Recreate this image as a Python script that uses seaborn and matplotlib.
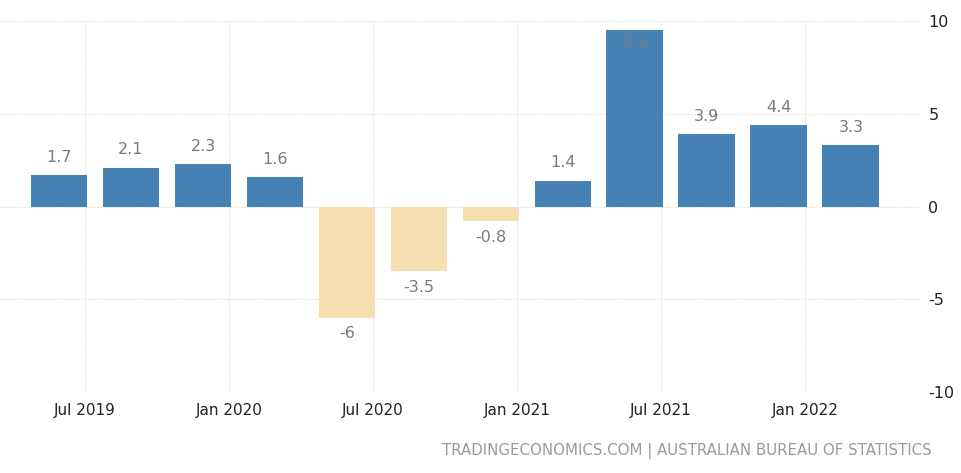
import matplotlib
matplotlib.use("Agg")
import matplotlib.pyplot as plt
import seaborn as sns
import pandas as pd
import numpy as np

quarters = ["Q2 2019", "Q3 2019", "Q4 2019", "Q1 2020", "Q2 2020", "Q3 2020",
            "Q4 2020", "Q1 2021", "Q2 2021", "Q3 2021", "Q4 2021", "Q1 2022"]
values = [1.7, 2.1, 2.3, 1.6, -6, -3.5, -0.8, 1.4, 9.5, 3.9, 4.4, 3.3]
value_labels = ["1.7", "2.1", "2.3", "1.6", "-6", "-3.5", "-0.8", "1.4", "9.5", "3.9", "4.4", "3.3"]
x_tick_labels = ["Jul 2019", "Jan 2020", "Jul 2020", "Jan 2021", "Jul 2021", "Jan 2022"]
y_ticks = [-10, -5, 0, 5, 10]
source = "TRADINGECONOMICS.COM | AUSTRALIAN BUREAU OF STATISTICS"

sns.set_style("white")
plt.rcParams['font.family'] = ['DejaVu Sans']
plt.rcParams['axes.unicode_minus'] = False

df = pd.DataFrame({"quarter": quarters, "value": values})
df["sign"] = np.where(df["value"] >= 0, "pos", "neg")

fig = plt.figure(figsize=(9.62, 4.73), dpi=100)
ax = fig.add_axes([0.0, 81 / 473, 920 / 962, (392 - 21) / 473])

sns.barplot(data=df, x="quarter", y="value", hue="sign",
            palette={"pos": "#4682B4", "neg": "#F5DFB0"}, saturation=1,
            dodge=False, width=0.79, legend=False, ax=ax, zorder=3,
            edgecolor="none")

ax.set_ylim(-10, 10)
ax.set_xlim(-0.82, 11.96)
ax.set_yticks(y_ticks)
ax.yaxis.tick_right()
ax.tick_params(axis="y", length=0, labelsize=11.5, labelcolor="#222222", pad=6)

tick_pos = [0.36 + 2 * i for i in range(len(x_tick_labels))]
ax.set_xticks(tick_pos)
ax.set_xticklabels(x_tick_labels)
ax.tick_params(axis="x", length=0, labelsize=11, labelcolor="#222222", pad=8)

ax.grid(True, axis="both", color="#e6e6e6", linestyle=(0, (2, 1)), linewidth=0.8, zorder=0)
for s in ax.spines.values():
    s.set_visible(False)
ax.set_xlabel("")
ax.set_ylabel("")

ymax = ax.get_ylim()[1]
for i, (v, lab) in enumerate(zip(values, value_labels)):
    if v >= 0:
        if v + 1.5 > ymax:
            ax.text(i, v - 0.7, lab, ha="center", va="center", fontsize=11.5, color="#7a7a7a", zorder=5)
        else:
            ax.text(i, v + 0.95, lab, ha="center", va="center", fontsize=11.5, color="#7a7a7a", zorder=5)
    else:
        ax.text(i, v - 0.85, lab, ha="center", va="center", fontsize=11.5, color="#7a7a7a", zorder=5)

fig.text(932 / 962, 1 - 451 / 473, source, ha="right", va="center", fontsize=10.8, color="#9a9a9a")

fig.savefig("out.png", dpi=100)
